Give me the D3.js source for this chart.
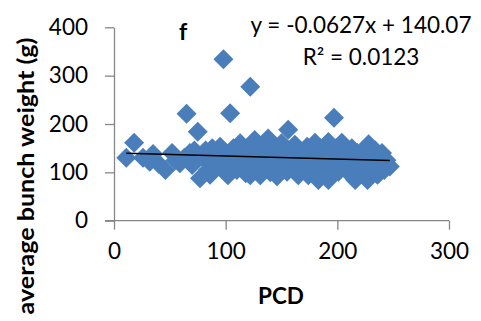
<!DOCTYPE html>
<html>
<head>
<meta charset="utf-8">
<script src="https://cdn.jsdelivr.net/npm/d3@7"></script>
<style>
  body { margin: 0; background: #fff; }
  text { font-family: Lato, "Open Sans", sans-serif; fill: #000; }
</style>
</head>
<body>
<div class="svgcontainer"></div>
<script>
// PCD values (x) and average bunch weight (y)
const pcd = [11, 18, 26, 32, 35, 40, 46, 52, 55, 59, 63, 65, 68, 70, 72, 75, 77, 80, 82, 84,
  86, 88, 90, 92, 95, 97, 98, 100, 102, 104, 105, 107, 110, 113, 115, 117, 120, 122, 122, 124,
  126, 128, 131, 133, 135, 138, 140, 142, 145, 148, 150, 152, 155, 156, 158, 160, 162, 164, 165, 167,
  170, 173, 174, 176, 178, 180, 182, 183, 185, 187, 189, 192, 192, 194, 196, 197, 199, 201, 204, 206,
  208, 210, 212, 213, 215, 216, 218, 220, 222, 224, 227, 228, 230, 232, 234, 236, 238, 240, 242, 244, 247,
  100, 108, 118, 128, 136, 146, 168, 188, 202, 226];
const weight = [130, 161, 130, 122, 138, 118, 105, 140, 125, 119, 130, 221, 140, 115, 145, 184, 88, 130, 145, 105,
  95, 150, 120, 135, 153, 110, 334, 140, 94, 222, 125, 150, 105, 160, 135, 115, 145, 94, 277, 125,
  167, 108, 94, 140, 120, 170, 100, 150, 130, 112, 160, 140, 101, 188, 125, 145, 157, 110, 94, 135,
  120, 153, 94, 140, 105, 161, 128, 84, 150, 115, 100, 163, 84, 135, 120, 213, 150, 101, 161, 130,
  110, 145, 95, 150, 125, 84, 140, 105, 120, 135, 84, 158, 110, 130, 145, 95, 120, 140, 105, 125, 112,
  100, 118, 98, 135, 150, 92, 108, 132, 140, 150];
const points = pcd.map((x, i) => ({x: x, y: weight[i]}));

const xTicks = [0, 100, 200, 300];
const yTicks = [0, 100, 200, 300, 400];
const slope = -0.0627, intercept = 140.07;
const eqLabel = "y = -0.0627x + 140.07";
const r2Label = "R² = 0.0123";

const width = 481, height = 321;
const svg = d3.select(".svgcontainer").append("svg")
  .attr("width", width).attr("height", height);

const x = d3.scaleLinear().domain([0, 300]).range([114, 449]);
const y = d3.scaleLinear().domain([0, 400]).range([220.7, 27.3]);

const axisColor = "#868686";

// points
const diamond = d3.symbol().type(d3.symbolSquare).size(200);
svg.append("g").selectAll("path")
  .data(points)
  .join("path")
  .attr("d", diamond)
  .attr("transform", d => `translate(${x(d.x)},${y(d.y)}) rotate(45)`)
  .attr("fill", "#4a7ebb");

// axes
const xAxis = svg.append("g").attr("transform", `translate(0,${y(0)})`)
  .call(d3.axisBottom(x).tickValues(xTicks).tickSize(9).tickSizeOuter(0).tickPadding(13));
const yAxis = svg.append("g").attr("transform", `translate(${x(0)},0)`)
  .call(d3.axisLeft(y).tickValues(yTicks).tickSize(9).tickSizeOuter(0).tickPadding(17));
[xAxis, yAxis].forEach(a => {
  a.select(".domain").attr("stroke", axisColor).attr("stroke-width", 1.3);
  a.selectAll(".tick line").attr("stroke", axisColor).attr("stroke-width", 1.3);
  a.selectAll(".tick text").attr("font-size", 22.5).attr("font-family", "Lato, sans-serif").attr("fill", "#000");
});
xAxis.select(".domain").attr("d", `M${x(0) - 9},0H${x(300)}`);

// trend line
const xr = d3.extent(pcd);
svg.append("line")
  .attr("x1", x(xr[0])).attr("y1", y(slope * xr[0] + intercept))
  .attr("x2", x(xr[1])).attr("y2", y(slope * xr[1] + intercept))
  .attr("stroke", "#000").attr("stroke-width", 1.5);

// labels
svg.append("text").attr("x", 183).attr("y", 40)
  .attr("text-anchor", "middle").attr("font-size", 23).attr("font-weight", "bold").text("f");
svg.append("text").attr("x", 361).attr("y", 33)
  .attr("text-anchor", "middle").attr("font-size", 22.5).text(eqLabel);
svg.append("text").attr("x", 361).attr("y", 65)
  .attr("text-anchor", "middle").attr("font-size", 22.5).text(r2Label);
svg.append("text").attr("x", 281).attr("y", 304)
  .attr("text-anchor", "middle").attr("font-size", 22.5).attr("font-weight", "bold").text("PCD");
svg.append("text")
  .attr("transform", "translate(34,176) rotate(-90)")
  .attr("text-anchor", "middle").attr("font-size", 23).attr("font-weight", "bold")
  .attr("textLength", 277).attr("lengthAdjust", "spacingAndGlyphs")
  .text("average bunch weight (g)");
</script>
</body>
</html>
